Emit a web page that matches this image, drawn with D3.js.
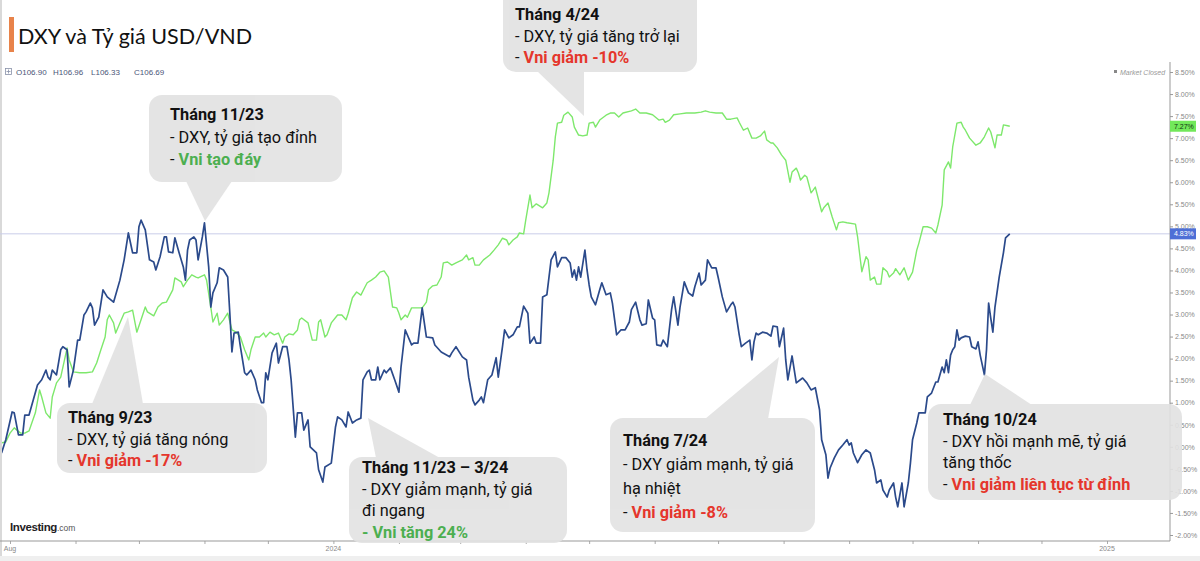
<!DOCTYPE html>
<html><head><meta charset="utf-8">
<script src="https://cdn.jsdelivr.net/npm/d3@7"></script>
<style>
html,body{margin:0;padding:0;background:#fff;}
svg{display:block;}
</style></head>
<body>
<svg id="chart" width="1200" height="561"></svg>
<script>
// ---------------- DATA ----------------
const title = "DXY và Tỷ giá USD/VND";
const ohlcLabels = ["O106.90", "H106.96", "L106.33", "C106.69"];

// DXY (% change, dark blue line)
const dxySeries = [
["2023-07-28",-0.14],["2023-07-30",0.16],["2023-08-02",0.79],["2023-08-03",0.77],["2023-08-05",0.27],["2023-08-07",0.27],
["2023-08-08",0.72],["2023-08-10",0.72],["2023-08-12",1.06],["2023-08-14",1.40],["2023-08-16",1.52],["2023-08-18",1.74],
["2023-08-19",1.58],["2023-08-20",1.52],["2023-08-21",1.74],["2023-08-23",1.63],["2023-08-25",2.20],["2023-08-26",2.27],
["2023-08-28",2.20],["2023-08-29",1.36],["2023-08-31",1.74],["2023-09-02",2.42],["2023-09-03",2.42],["2023-09-05",2.99],
["2023-09-06",3.06],["2023-09-08",3.26],["2023-09-09",3.15],["2023-09-10",2.76],["2023-09-12",2.94],["2023-09-14",3.56],
["2023-09-16",3.40],["2023-09-19",3.28],["2023-09-22",3.78],["2023-09-24",4.24],["2023-09-26",4.85],["2023-09-28",4.40],
["2023-09-30",4.40],["2023-10-01",4.99],["2023-10-02",5.14],["2023-10-04",4.92],["2023-10-06",4.24],["2023-10-08",4.19],
["2023-10-09",4.01],["2023-10-11",4.31],["2023-10-13",4.76],["2023-10-14",4.76],["2023-10-15",4.42],["2023-10-17",4.40],
["2023-10-18",4.74],["2023-10-20",4.40],["2023-10-22",4.08],["2023-10-23",3.78],["2023-10-24",4.46],["2023-10-25",4.69],
["2023-10-27",4.76],["2023-10-28",4.69],["2023-10-29",4.24],["2023-10-31",4.76],["2023-11-01",5.08],["2023-11-03",4.08],
["2023-11-04",3.17],["2023-11-05",3.49],["2023-11-07",3.72],["2023-11-08",4.06],["2023-11-10",4.01],["2023-11-12",3.85],
["2023-11-13",3.03],["2023-11-14",2.15],["2023-11-15",2.58],["2023-11-17",2.60],["2023-11-18",2.27],["2023-11-20",1.68],
["2023-11-21",1.63],["2023-11-23",1.74],["2023-11-25",1.52],["2023-11-26",1.29],["2023-11-28",1.00],["2023-11-29",1.00],
["2023-11-30",1.68],["2023-12-01",1.52],["2023-12-03",2.13],["2023-12-05",2.35],["2023-12-06",1.90],["2023-12-08",2.27],
["2023-12-10",2.27],["2023-12-11",1.97],["2023-12-12",1.52],["2023-12-14",0.22],["2023-12-15",0.77],["2023-12-16",0.77],
["2023-12-17",0.77],["2023-12-18",0.38],["2023-12-20",0.61],["2023-12-21",0.00],["2023-12-24",-0.14],["2023-12-25",-0.52],
["2023-12-27",-0.80],["2023-12-28",-0.46],["2023-12-31",-0.37],["2024-01-02",0.45],["2024-01-03",0.68],["2024-01-05",0.61],
["2024-01-07",0.45],["2024-01-08",0.79],["2024-01-10",0.54],["2024-01-12",0.61],["2024-01-14",0.65],["2024-01-15",1.52],
["2024-01-17",1.70],["2024-01-18",1.74],["2024-01-19",1.52],["2024-01-21",1.52],["2024-01-22",1.81],["2024-01-23",1.52],
["2024-01-25",1.74],["2024-01-26",1.68],["2024-01-28",1.79],["2024-01-30",1.52],["2024-02-01",1.24],["2024-02-02",1.81],
["2024-02-04",2.65],["2024-02-07",2.31],["2024-02-08",2.35],["2024-02-10",2.35],["2024-02-12",3.15],["2024-02-14",2.49],
["2024-02-17",2.47],["2024-02-18",2.31],["2024-02-21",2.15],["2024-02-25",2.04],["2024-02-26",2.13],["2024-02-28",2.27],
["2024-03-02",2.04],["2024-03-04",1.97],["2024-03-05",1.58],["2024-03-07",1.06],["2024-03-08",0.95],["2024-03-10",1.06],
["2024-03-11",1.13],["2024-03-12",1.00],["2024-03-14",1.52],["2024-03-16",1.63],["2024-03-18",2.02],["2024-03-19",1.58],
["2024-03-21",2.27],["2024-03-22",2.65],["2024-03-24",2.47],["2024-03-26",2.54],["2024-03-28",2.72],["2024-03-29",2.72],
["2024-03-31",3.19],["2024-04-02",3.03],["2024-04-03",2.35],["2024-04-05",2.49],["2024-04-06",2.35],["2024-04-08",2.35],
["2024-04-09",3.40],["2024-04-11",3.45],["2024-04-13",4.24],["2024-04-15",4.42],["2024-04-16",4.08],["2024-04-18",4.29],
["2024-04-20",4.29],["2024-04-22",4.17],["2024-04-23",3.85],["2024-04-24",4.01],["2024-04-25",3.78],["2024-04-26",4.08],
["2024-04-27",3.85],["2024-04-29",4.46],["2024-04-30",4.01],["2024-05-01",3.67],["2024-05-02",3.40],["2024-05-04",3.22],
["2024-05-06",3.56],["2024-05-07",3.72],["2024-05-09",3.45],["2024-05-11",3.49],["2024-05-12",3.26],["2024-05-14",2.54],
["2024-05-16",2.65],["2024-05-18",2.65],["2024-05-20",2.83],["2024-05-21",3.11],["2024-05-23",3.28],["2024-05-25",2.88],
["2024-05-26",2.76],["2024-05-28",2.79],["2024-05-29",3.33],["2024-05-31",2.92],["2024-06-01",2.88],["2024-06-02",2.31],
["2024-06-04",2.29],["2024-06-05",2.42],["2024-06-07",2.27],["2024-06-09",3.11],["2024-06-10",3.40],["2024-06-12",2.76],
["2024-06-13",3.17],["2024-06-15",3.74],["2024-06-17",3.49],["2024-06-19",3.42],["2024-06-20",3.63],["2024-06-22",3.94],
["2024-06-23",3.67],["2024-06-25",3.78],["2024-06-26",4.24],["2024-06-28",4.06],["2024-06-30",4.06],["2024-07-01",3.85],
["2024-07-03",3.40],["2024-07-05",3.06],["2024-07-07",3.22],["2024-07-08",3.28],["2024-07-09",3.17],["2024-07-11",2.54],
["2024-07-12",2.27],["2024-07-14",2.35],["2024-07-16",2.42],["2024-07-17",1.97],["2024-07-18",2.38],["2024-07-19",2.58],
["2024-07-20",2.54],["2024-07-22",2.60],["2024-07-24",2.58],["2024-07-26",2.51],["2024-07-27",2.74],["2024-07-29",2.72],
["2024-07-30",2.27],["2024-08-01",2.69],["2024-08-02",1.97],["2024-08-03",1.52],["2024-08-05",2.06],["2024-08-07",1.45],
["2024-08-10",1.56],["2024-08-12",1.45],["2024-08-14",1.29],["2024-08-16",1.34],["2024-08-18",0.84],["2024-08-19",0.16],
["2024-08-21",-0.18],["2024-08-22",-0.71],["2024-08-23",-0.48],["2024-08-25",-0.25],["2024-08-27",-0.07],["2024-08-29",0.04],
["2024-08-31",0.16],["2024-09-01",0.04],["2024-09-02",0.09],["2024-09-03",-0.14],["2024-09-05",-0.36],["2024-09-07",-0.18],
["2024-09-09",-0.07],["2024-09-11",-0.14],["2024-09-13",-0.52],["2024-09-14",-0.82],["2024-09-16",-0.75],["2024-09-17",-0.98],
["2024-09-19",-1.14],["2024-09-20",-0.98],["2024-09-22",-0.82],["2024-09-23",-1.14],["2024-09-24",-1.36],["2024-09-26",-0.82],
["2024-09-27",-1.36],["2024-09-29",-0.82],["2024-09-30",-0.37],["2024-10-01",0.16],["2024-10-03",0.54],["2024-10-04",0.77],
["2024-10-07",0.77],["2024-10-08",1.13],["2024-10-10",1.22],["2024-10-12",1.47],["2024-10-13",1.47],["2024-10-15",1.81],
["2024-10-16",1.68],["2024-10-17",1.97],["2024-10-18",1.68],["2024-10-19",2.08],["2024-10-20",2.20],["2024-10-21",2.27],
["2024-10-22",2.65],["2024-10-23",2.42],["2024-10-24",2.47],["2024-10-26",2.51],["2024-10-28",2.49],["2024-10-29",2.27],
["2024-10-31",2.22],["2024-11-01",2.38],["2024-11-02",2.08],["2024-11-04",1.63],["2024-11-05",2.20],["2024-11-06",3.26],
["2024-11-07",2.92],["2024-11-08",2.60],["2024-11-09",3.17],["2024-11-11",3.85],["2024-11-13",4.40],["2024-11-14",4.74],
["2024-11-16",4.83]
];

// USD/VND (% change, light green line)
const usdVndSeries = [
["2023-07-28",0.09],["2023-07-30",0.11],["2023-08-01",0.31],["2023-08-03",0.43],["2023-08-06",0.31],["2023-08-08",0.31],
["2023-08-10",0.36],["2023-08-13",0.77],["2023-08-15",1.29],["2023-08-16",1.13],["2023-08-18",0.77],["2023-08-20",0.65],
["2023-08-21",1.13],["2023-08-23",1.45],["2023-08-25",1.58],["2023-08-28",2.24],["2023-08-29",1.97],["2023-08-31",1.70],
["2023-09-03",1.68],["2023-09-06",1.68],["2023-09-09",1.70],["2023-09-11",1.90],["2023-09-13",2.20],["2023-09-15",2.49],
["2023-09-16",2.88],["2023-09-17",2.99],["2023-09-19",2.81],["2023-09-20",2.58],["2023-09-22",2.81],["2023-09-24",3.03],
["2023-09-26",3.06],["2023-09-28",3.10],["2023-09-30",2.60],["2023-10-02",2.88],["2023-10-04",3.17],["2023-10-05",3.06],
["2023-10-08",2.97],["2023-10-10",3.17],["2023-10-12",3.26],["2023-10-14",3.28],["2023-10-17",3.56],["2023-10-18",3.83],
["2023-10-21",3.74],["2023-10-22",3.63],["2023-10-24",3.78],["2023-10-26",3.90],["2023-10-28",3.85],["2023-10-29",3.83],
["2023-11-01",3.90],["2023-11-02",3.78],["2023-11-04",3.17],["2023-11-05",2.83],["2023-11-07",3.03],["2023-11-08",2.76],
["2023-11-10",2.88],["2023-11-12",3.03],["2023-11-14",2.65],["2023-11-16",2.60],["2023-11-18",2.49],["2023-11-20",2.20],
["2023-11-22",1.97],["2023-11-23",2.20],["2023-11-25",2.49],["2023-11-27",2.49],["2023-11-29",2.58],["2023-11-30",2.49],
["2023-12-02",2.60],["2023-12-04",2.54],["2023-12-06",2.58],["2023-12-08",2.35],["2023-12-09",2.49],["2023-12-11",2.56],
["2023-12-13",2.54],["2023-12-15",2.65],["2023-12-16",2.88],["2023-12-17",2.92],["2023-12-20",2.81],["2023-12-22",2.42],
["2023-12-24",2.42],["2023-12-25",2.83],["2023-12-26",2.88],["2023-12-28",2.49],["2023-12-29",2.54],["2023-12-31",2.81],
["2024-01-03",2.99],["2024-01-05",2.99],["2024-01-07",2.88],["2024-01-08",3.03],["2024-01-10",3.38],["2024-01-12",3.51],
["2024-01-14",3.44],["2024-01-16",3.63],["2024-01-17",3.72],["2024-01-19",3.78],["2024-01-21",3.85],["2024-01-23",3.96],
["2024-01-25",3.99],["2024-01-27",3.85],["2024-01-29",3.17],["2024-01-31",3.15],["2024-02-01",3.03],["2024-02-02",2.88],
["2024-02-04",2.99],["2024-02-05",2.94],["2024-02-07",3.15],["2024-02-08",3.15],["2024-02-10",3.15],["2024-02-12",3.15],
["2024-02-14",3.28],["2024-02-15",3.56],["2024-02-17",3.65],["2024-02-19",3.67],["2024-02-21",3.85],["2024-02-22",4.17],
["2024-02-24",4.19],["2024-02-26",4.12],["2024-02-28",4.17],["2024-03-02",4.24],["2024-03-04",4.35],["2024-03-05",4.24],
["2024-03-07",4.29],["2024-03-08",4.12],["2024-03-10",4.12],["2024-03-12",4.24],["2024-03-15",4.35],["2024-03-17",4.46],
["2024-03-19",4.58],["2024-03-21",4.73],["2024-03-23",4.69],["2024-03-24",4.58],["2024-03-26",4.69],["2024-03-28",4.76],
["2024-03-29",4.85],["2024-03-31",4.83],["2024-04-01",5.14],["2024-04-03",5.71],["2024-04-04",5.42],["2024-04-06",5.51],
["2024-04-09",5.42],["2024-04-11",5.53],["2024-04-12",5.76],["2024-04-14",6.50],["2024-04-15",7.03],["2024-04-16",7.34],
["2024-04-18",7.36],["2024-04-19",7.52],["2024-04-21",7.59],["2024-04-23",7.48],["2024-04-24",7.25],["2024-04-26",7.07],
["2024-04-28",7.05],["2024-04-30",7.07],["2024-05-01",7.34],["2024-05-03",7.36],["2024-05-04",7.25],["2024-05-06",7.41],
["2024-05-09",7.52],["2024-05-11",7.57],["2024-05-13",7.57],["2024-05-15",7.48],["2024-05-17",7.57],["2024-05-21",7.62],
["2024-05-23",7.66],["2024-05-25",7.57],["2024-05-28",7.57],["2024-05-31",7.53],["2024-06-03",7.41],["2024-06-05",7.43],
["2024-06-06",7.36],["2024-06-08",7.41],["2024-06-10",7.53],["2024-06-13",7.55],["2024-06-16",7.57],["2024-06-20",7.57],
["2024-06-23",7.59],["2024-06-25",7.62],["2024-06-27",7.59],["2024-06-30",7.57],["2024-07-03",7.57],["2024-07-05",7.43],
["2024-07-07",7.43],["2024-07-10",7.46],["2024-07-11",7.36],["2024-07-13",7.18],["2024-07-15",7.23],["2024-07-17",7.00],
["2024-07-19",7.00],["2024-07-21",7.05],["2024-07-23",7.16],["2024-07-24",6.96],["2024-07-26",6.89],["2024-07-27",6.89],
["2024-07-29",6.78],["2024-07-31",6.62],["2024-08-02",6.50],["2024-08-04",6.00],["2024-08-05",6.23],["2024-08-07",6.32],
["2024-08-08",6.21],["2024-08-09",6.05],["2024-08-11",6.16],["2024-08-12",6.12],["2024-08-14",5.76],["2024-08-15",5.82],
["2024-08-16",5.89],["2024-08-19",5.33],["2024-08-20",5.42],["2024-08-22",5.53],["2024-08-24",5.21],["2024-08-26",4.92],
["2024-08-27",5.08],["2024-08-29",5.10],["2024-08-31",5.08],["2024-09-04",5.05],["2024-09-05",4.76],["2024-09-07",3.97],
["2024-09-09",4.31],["2024-09-10",4.24],["2024-09-11",3.78],["2024-09-13",3.85],["2024-09-14",3.69],["2024-09-16",3.69],
["2024-09-17",4.06],["2024-09-19",3.97],["2024-09-20",3.85],["2024-09-22",3.94],["2024-09-23",4.04],["2024-09-25",3.90],
["2024-09-27",4.06],["2024-09-29",3.78],["2024-10-01",3.96],["2024-10-03",4.46],["2024-10-04",4.62],["2024-10-06",4.99],
["2024-10-08",4.99],["2024-10-10",4.96],["2024-10-12",4.85],["2024-10-13",5.03],["2024-10-15",5.48],["2024-10-16",6.28],
["2024-10-18",6.46],["2024-10-19",6.32],["2024-10-20",6.80],["2024-10-22",7.34],["2024-10-24",7.36],["2024-10-25",7.25],
["2024-10-26",7.18],["2024-10-28",7.00],["2024-10-31",6.84],["2024-11-02",6.89],["2024-11-04",7.03],["2024-11-06",7.23],
["2024-11-07",7.14],["2024-11-09",6.78],["2024-11-10",7.07],["2024-11-12",7.07],["2024-11-13",7.30],["2024-11-15",7.28],
["2024-11-16",7.27]
];

const yTicks = [-2,-1.5,-1,-0.5,0,0.5,1,1.5,2,2.5,3,3.5,4,4.5,5,5.5,6,6.5,7,7.5,8,8.5];
const xTickMonths = ["2023-08-01","2023-09-01","2023-10-01","2023-11-01","2023-12-01","2024-01-01","2024-02-01","2024-03-01",
  "2024-04-01","2024-05-01","2024-06-01","2024-07-01","2024-08-01","2024-09-01","2024-10-01","2024-11-01","2024-12-01","2025-01-01"];
const xLabelDates = ["2023-08-01","2024-01-01","2025-01-01"];
const xLabelTexts = ["Aug","2024","2025"];
const lastValues = [7.27, 4.83];

// Callout texts (segments: [text, style]) ; style: b=bold black, n=normal, r=red bold, g=green bold
const calloutTexts = [
  [[["Tháng 11/23","b"]],[["- DXY, tỷ giá tạo đỉnh","n"]],[["- ","n"],["Vni tạo đáy","g"]]],
  [[["Tháng 4/24","b"]],[["- DXY, tỷ giá tăng trở lại","n"]],[["- ","n"],["Vni giảm -10%","r"]]],
  [[["Tháng 9/23","b"]],[["- DXY, tỷ giá tăng nóng","n"]],[["- ","n"],["Vni giảm -17%","r"]]],
  [[["Tháng 11/23 – 3/24","b"]],[["- DXY giảm mạnh, tỷ giá","n"]],[["đi ngang","n"]],[["- Vni tăng 24%","g"]]],
  [[["Tháng 7/24","b"]],[["- DXY giảm mạnh, tỷ giá","n"]],[["hạ nhiệt","n"]],[["- ","n"],["Vni giảm -8%","r"]]],
  [[["Tháng 10/24","b"]],[["- DXY hồi mạnh mẽ, tỷ giá","n"]],[["tăng thốc","n"]],[["- ","n"],["Vni giảm liên tục từ đỉnh","r"]]]
];

// ---------------- LAYOUT ----------------
const callLayout = [
  {box:[149,95,193,87], tx:170, ty:120, lh:22.5, ptr:[[186,181],[232,181],[205,221]]},
  {box:[503,-12,194,84], tx:515, ty:20, lh:21.5, ptr:[[537,71],[584,71],[584,116]]},
  {box:[57,403,210,70], tx:68, ty:423, lh:21.5, ptr:[[92,404],[143,404],[128,317]]},
  {box:[349,457,218,86], tx:362, ty:473, lh:21.5, ptr:[[376,458],[440,458],[368,418]]},
  {box:[610,418,205,114], tx:623, ty:446, lh:24, ptr:[[705,419],[768,419],[779,357]]},
  {box:[928,404,254,96], tx:943, ty:425, lh:21.5, ptr:[[970,405],[1032,405],[985,374]]}
];
const styleMap = {
  b:{w:700,c:"#111"}, n:{w:400,c:"#111"}, r:{w:700,c:"#e5362c"}, g:{w:700,c:"#4caf50"}
};

const parse = d3.timeParse("%Y-%m-%d");
const svg = d3.select("#chart");
const W = 1200, H = 561;
const plotR = 1170, plotT = 62, plotB = 541;

const x = d3.scaleTime().domain([parse("2023-08-01"), parse("2025-01-01")]).range([10, 1107]);
const y = d3.scaleLinear().domain([-2, 8.5]).range([535, 72]);

// background & frame bits
svg.append("rect").attr("width",W).attr("height",H).attr("fill","#fff");
svg.append("rect").attr("x",0).attr("y",0).attr("width",2).attr("height",H).attr("fill","#d9d9d9");
svg.append("rect").attr("x",0).attr("y",556).attr("width",W).attr("height",5).attr("fill","#efefef");

// Title
svg.append("rect").attr("x",9).attr("y",17).attr("width",5).attr("height",35).attr("fill","#e8834a");
svg.append("text").attr("x",18).attr("y",44).text(title)
  .attr("font-family","Lato, 'Noto Sans', sans-serif").attr("font-size",22).attr("fill","#111")
  .attr("textLength",234).attr("lengthAdjust","spacingAndGlyphs");

// OHLC line
const og = svg.append("g").attr("font-family","'Liberation Sans', Arial, sans-serif").attr("font-size",8).attr("fill","#4a5578");
og.append("rect").attr("x",5.5).attr("y",68.5).attr("width",6).attr("height",6).attr("fill","none").attr("stroke","#8891a8").attr("stroke-width",0.8);
og.append("path").attr("d","M8.5,69.5V73.5M6.5,71.5H10.5").attr("stroke","#8891a8").attr("stroke-width",0.8);
const ohlcX = [16, 53, 91, 134];
ohlcLabels.forEach((t,i)=> og.append("text").attr("x",ohlcX[i]).attr("y",74.5).text(t));

// Market closed
svg.append("rect").attr("x",1114).attr("y",70).attr("width",3).attr("height",3).attr("fill","#888");
svg.append("text").attr("x",1120).attr("y",74.5).text("Market Closed")
  .attr("font-family","'Liberation Sans', Arial, sans-serif").attr("font-size",7).attr("font-style","italic").attr("fill","#999");

// reference horizontal line at last DXY value
svg.append("line").attr("x1",0).attr("x2",plotR).attr("y1",y(lastValues[1])).attr("y2",y(lastValues[1]))
  .attr("stroke","#c9cde9").attr("stroke-width",1);

// clip
svg.append("clipPath").attr("id","clip").append("rect").attr("x",2).attr("y",plotT).attr("width",plotR-2).attr("height",plotB-plotT);

const line = d3.line().x(d=>x(parse(d[0]))).y(d=>y(d[1]));
svg.append("path").datum(usdVndSeries).attr("clip-path","url(#clip)")
  .attr("d",line).attr("fill","none").attr("stroke","#7ee86c").attr("stroke-width",1.4).attr("stroke-linejoin","round");
svg.append("path").datum(dxySeries).attr("clip-path","url(#clip)")
  .attr("d",line).attr("fill","none").attr("stroke","#2b4a8b").attr("stroke-width",1.7).attr("stroke-linejoin","round");

// Right axis
const yAxis = d3.axisRight(y).tickValues(yTicks).tickSize(3).tickPadding(2).tickFormat(d=>d.toFixed(2)+"%");
const ya = svg.append("g").attr("transform",`translate(${plotR},0)`).call(yAxis);
ya.select(".domain").remove();
ya.selectAll("line").attr("stroke","#999");
ya.selectAll("text").attr("font-family","'Liberation Sans', Arial, sans-serif").attr("font-size",7).attr("fill","#888");
svg.append("line").attr("x1",plotR).attr("x2",plotR).attr("y1",plotT).attr("y2",plotB).attr("stroke","#999").attr("stroke-width",1);

// Bottom axis
const xAxis = d3.axisBottom(x).tickValues(xTickMonths.map(parse)).tickSize(3).tickFormat("");
const xa = svg.append("g").attr("transform",`translate(0,${plotB})`).call(xAxis);
xa.select(".domain").remove();
xa.selectAll("line").attr("stroke","#aaa");
svg.append("line").attr("x1",0).attr("x2",plotR).attr("y1",plotB).attr("y2",plotB).attr("stroke","#999").attr("stroke-width",1);
xLabelDates.forEach((d,i)=>{
  svg.append("text").attr("x",x(parse(d))).attr("y",551).attr("text-anchor","middle").text(xLabelTexts[i])
    .attr("font-family","'Liberation Sans', Arial, sans-serif").attr("font-size",7).attr("fill","#888");
});

// Last value tags
const tagColors = [["#72e85a","#123312"],["#4e6fd6","#ffffff"]];
lastValues.forEach((v,i)=>{
  svg.append("rect").attr("x",plotR).attr("y",y(v)-5.5).attr("width",26).attr("height",11).attr("fill",tagColors[i][0]);
  svg.append("text").attr("x",plotR+4).attr("y",y(v)+2.5).text(v.toFixed(2)+"%")
    .attr("font-family","'Liberation Sans', Arial, sans-serif").attr("font-size",7).attr("fill",tagColors[i][1]);
});

// Investing.com logo
const lg = svg.append("text").attr("x",10).attr("y",531).attr("font-family","'Liberation Sans', Arial, sans-serif");
lg.append("tspan").text("Investing").attr("font-size",11.5).attr("font-weight",700).attr("fill","#1f2124").attr("letter-spacing",-0.4);
lg.append("tspan").text(".com").attr("font-size",8.5).attr("fill","#555");

// Callouts
calloutTexts.forEach((lines,i)=>{
  const L = callLayout[i];
  const g = svg.append("g").attr("opacity",0.9);
  g.append("rect").attr("x",L.box[0]).attr("y",L.box[1]).attr("width",L.box[2]).attr("height",L.box[3])
    .attr("rx",13).attr("fill","#e2e2e2");
  g.append("path").attr("d","M"+L.ptr.map(p=>p.join(",")).join("L")+"Z").attr("fill","#e2e2e2");
  lines.forEach((segs,j)=>{
    const t = svg.append("text").attr("x",L.tx).attr("y",L.ty + j*L.lh)
      .attr("font-family","Roboto, 'Noto Sans', sans-serif").attr("font-size",16.3);
    segs.forEach(s=>{
      t.append("tspan").text(s[0]).attr("font-weight",styleMap[s[1]].w).attr("fill",styleMap[s[1]].c);
    });
  });
});
</script>
</body></html>
